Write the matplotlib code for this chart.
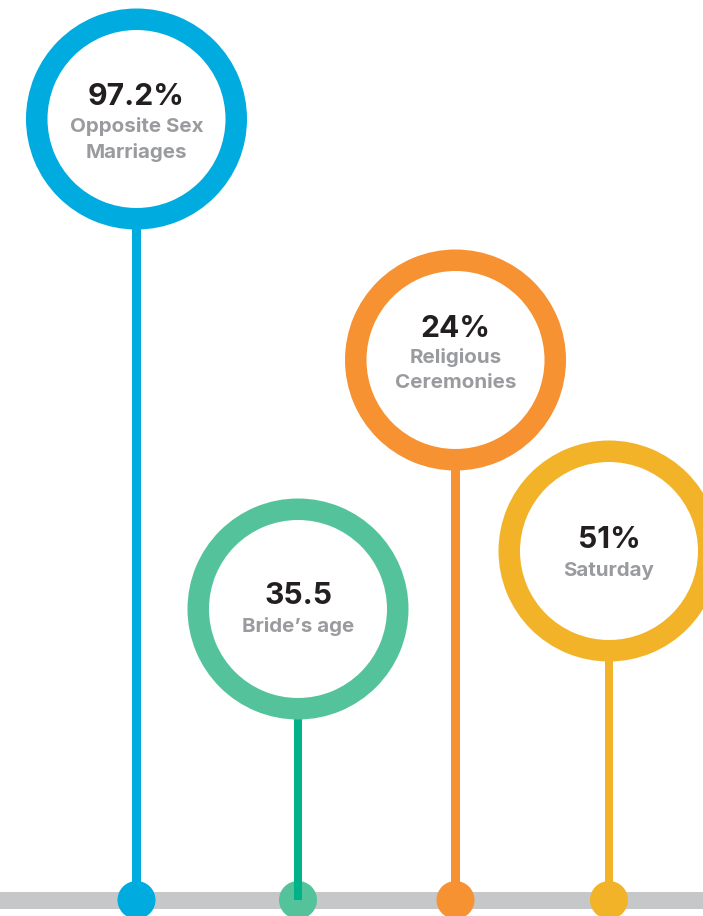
import matplotlib
matplotlib.use("Agg")
import matplotlib.pyplot as plt
from matplotlib.patches import Wedge, Circle, Rectangle

# ---- data ----
values = ["97.2%", "35.5", "24%", "51%"]
labels = ["Opposite Sex\nMarriages", "Bride\u2019s age", "Religious\nCeremonies", "Saturday"]
heights = [781, 291, 540, 349]          # lollipop heights above the baseline (px units)
ring_colors = ["#00acdf", "#54c39b", "#f69232", "#f2b328"]
stem_colors = ["#00acdf", "#00b288", "#f69232", "#f2b328"]

# ---- layout ----
W, H = 703, 916
base_y = 900
xs = [136.5, 298, 455.5, 609]
R_out, ring_w = 110.5, 21.5
stem_w = 8.5
dot_r = 19
# text baseline offsets relative to circle centre (value, label lines)
val_off = [-14, -5.5, -23, -3.5]
lab_off = [[13, 39], [23.5], [3, 28], [24.5]]

fig = plt.figure(figsize=(W / 100, H / 100), dpi=100)
ax = fig.add_axes([0, 0, 1, 1])
ax.set_xlim(0, W)
ax.set_ylim(H, 0)
ax.set_aspect("equal")
ax.axis("off")

# baseline
ax.add_patch(Rectangle((0, base_y - 8.5), W, 17, facecolor="#c6c7c9", edgecolor="none", zorder=1))

for i, (x, h) in enumerate(zip(xs, heights)):
    cy = base_y - h
    ax.add_patch(Circle((x, base_y), dot_r, facecolor=ring_colors[i], edgecolor="none", zorder=2))
    ax.add_patch(Rectangle((x - stem_w / 2, cy), stem_w, h, facecolor=stem_colors[i],
                           edgecolor="none", zorder=3 if i == 1 else 1.5))
    ax.add_patch(Circle((x, cy), R_out - ring_w, facecolor="white", edgecolor="none", zorder=4 + i))
    ax.add_patch(Wedge((x, cy), R_out, 0, 360, width=ring_w, facecolor=ring_colors[i],
                       edgecolor="none", zorder=4 + i))
    ax.text(x, cy + val_off[i], values[i], ha="center", va="baseline", fontsize=21.7,
            fontweight="bold", family="Inter", color="#231f20", zorder=10)
    for line, off in zip(labels[i].split("\n"), lab_off[i]):
        ax.text(x, cy + off, line, ha="center", va="baseline", fontsize=14.8,
                fontweight="bold", family="Inter", color="#9a9b9f", zorder=10)

fig.savefig("out.png", dpi=100)
